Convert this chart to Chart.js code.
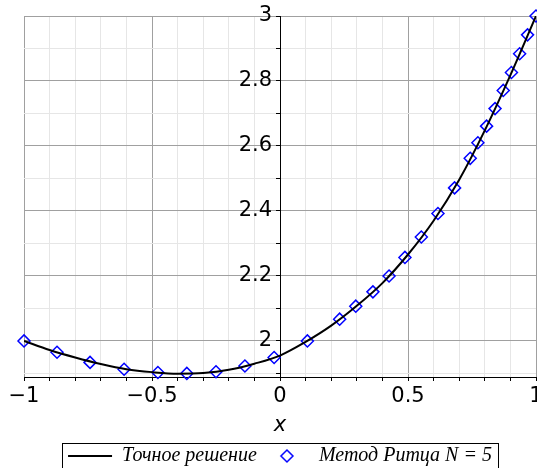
<!DOCTYPE html>
<html>
<head>
<meta charset="utf-8">
<script src="https://cdn.jsdelivr.net/npm/chart.js@4/dist/chart.umd.min.js"></script>
<style>
  html, body { margin: 0; padding: 0; background: #fff; }
</style>
</head>
<body>
<canvas id="chart" width="537" height="468"></canvas>
<script>
// Точное решение
const exactX = [-1, -0.9, -0.8, -0.7, -0.6, -0.5, -0.4, -0.3, -0.2, -0.1, 0, 0.1, 0.2, 0.3, 0.4, 0.5, 0.6, 0.7, 0.8, 0.9, 1];
const exactY = [2.0, 1.972, 1.949, 1.929, 1.913, 1.904, 1.899, 1.901, 1.911, 1.93, 1.955, 1.997, 2.047, 2.108, 2.178, 2.266, 2.37, 2.496, 2.648, 2.818, 3.0];

// Метод Ритца N = 5
const ritzX = [-1, -0.871, -0.742, -0.609, -0.477, -0.364, -0.25, -0.137, -0.023, 0.107, 0.233, 0.296, 0.363, 0.426, 0.488, 0.552, 0.617, 0.682, 0.743, 0.773, 0.807, 0.84, 0.872, 0.904, 0.936, 0.967, 1];
const ritzY = [2.0, 1.965, 1.934, 1.913, 1.903, 1.900, 1.905, 1.923, 1.949, 2.0, 2.067, 2.107, 2.151, 2.2, 2.257, 2.32, 2.392, 2.471, 2.562, 2.61, 2.661, 2.715, 2.771, 2.826, 2.884, 2.942, 3.0];

const seriesNames = ['Точное решение', 'Метод Ритца N = 5'];
const xMin = -1, xMax = 1, yMin = 1.889, yMax = 3;
// y axis crosses at x = 0, its labels sit a little to the left of it
const yAxisAt = 0, yLabelsAt = -0.031;

const tickFont = { family: 'DejaVu Sans', size: 21 };
const MAJOR = '#a0a0a0', MINOR = '#e6e6e6';

// diamond for the legend
const diamond = document.createElement('canvas');
diamond.width = 16; diamond.height = 16;
(function () {
  const c = diamond.getContext('2d');
  c.strokeStyle = '#0000ff'; c.lineWidth = 1.5;
  c.beginPath();
  c.moveTo(8, 2); c.lineTo(14, 8); c.lineTo(8, 14); c.lineTo(2, 8); c.closePath();
  c.stroke();
})();

const fmt = v => {
  const s = (Math.round(v * 10) / 10).toString();
  return s.replace('-', '\u2212');
};
const noPad = s => { s.paddingTop = 0; s.paddingBottom = 0; s.paddingLeft = 0; s.paddingRight = 0; };

const legendBox = {
  id: 'legendBox',
  afterDraw(chart) {
    const hb = chart.legend.legendHitBoxes;
    if (!hb || !hb.length) return;
    const c = chart.ctx;
    const l = Math.round(hb[0].left - 6), r = Math.round(hb[hb.length - 1].left + hb[hb.length - 1].width + 6);
    const t = Math.round(hb[0].top - 3);
    c.save();
    c.strokeStyle = '#000'; c.lineWidth = 1;
    c.strokeRect(l + 0.5, t + 0.5, r - l, 40);
    c.restore();
  }
};

new Chart(document.getElementById('chart'), {
  type: 'scatter',
  data: {
    datasets: [
      {
        label: seriesNames[0],
        type: 'line',
        data: exactX.map((x, i) => ({ x, y: exactY[i] })),
        borderColor: '#000',
        backgroundColor: '#000',
        borderWidth: 2,
        pointRadius: 0,
        pointStyle: 'line',
        cubicInterpolationMode: 'monotone',
        fill: false
      },
      {
        label: seriesNames[1],
        data: ritzX.map((x, i) => ({ x, y: ritzY[i] })),
        showLine: false,
        pointStyle: 'rectRot',
        borderColor: '#0000ff',
        backgroundColor: 'rgba(0,0,0,0)',
        borderWidth: 1.5,
        pointRadius: 6,
        clip: false
      }
    ]
  },
  options: {
    responsive: false,
    animation: false,
    layout: { autoPadding: false, padding: { left: 24, right: 1, top: 16, bottom: -8 } },
    plugins: {
      tooltip: { enabled: false },
      legend: {
        position: 'bottom',
        labels: {
          usePointStyle: true,
          pointStyleWidth: 44,
          padding: 8,
          color: '#000',
          font: { family: 'Liberation Serif', size: 20, style: 'italic' },
          generateLabels: chart => {
            const items = Chart.defaults.plugins.legend.labels.generateLabels(chart);
            items.forEach(it => { if (it.datasetIndex === 1) it.pointStyle = diamond; });
            return items;
          }
        }
      }
    },
    scales: {
      x: {
        type: 'linear',
        min: xMin, max: xMax,
        position: 'bottom',
        afterFit: s => { s.height = 61; noPad(s); },
        border: { color: '#000', width: 1 },
        grid: {
          color: c => Math.round(c.tick.value * 10) % 5 === 0 ? MAJOR : MINOR,
          tickColor: '#000',
          tickLength: 4
        },
        ticks: {
          stepSize: 0.1,
          autoSkip: false,
          maxRotation: 0,
          includeBounds: false,
          padding: 3,
          color: '#000',
          font: tickFont,
          callback: v => Math.round(v * 10) % 5 === 0 ? fmt(v) : ''
        },
        title: {
          display: true,
          text: 'x',
          color: '#000',
          padding: { top: 0, bottom: 0 },
          font: { family: 'DejaVu Sans', size: 21, style: 'italic' }
        }
      },
      y: {
        type: 'linear',
        min: yMin, max: yMax,
        position: { x: yAxisAt },
        afterFit: noPad,
        border: { color: '#000', width: 1 },
        grid: {
          color: c => Math.round(c.tick.value * 10) % 2 === 0 ? MAJOR : MINOR,
          tickColor: '#000',
          tickLength: 4
        },
        ticks: {
          stepSize: 0.1,
          autoSkip: false,
          includeBounds: false,
          display: false
        }
      },
      yLabels: {
        type: 'linear',
        axis: 'y',
        min: yMin, max: yMax,
        position: { x: yLabelsAt },
        afterFit: noPad,
        border: { display: false },
        grid: { display: false },
        ticks: {
          stepSize: 0.1,
          autoSkip: false,
          includeBounds: false,
          color: '#000',
          font: tickFont,
          callback: v => Math.round(v * 10) % 2 === 0 ? fmt(v) : ''
        }
      }
    }
  },
  plugins: [legendBox]
});
</script>
</body>
</html>
